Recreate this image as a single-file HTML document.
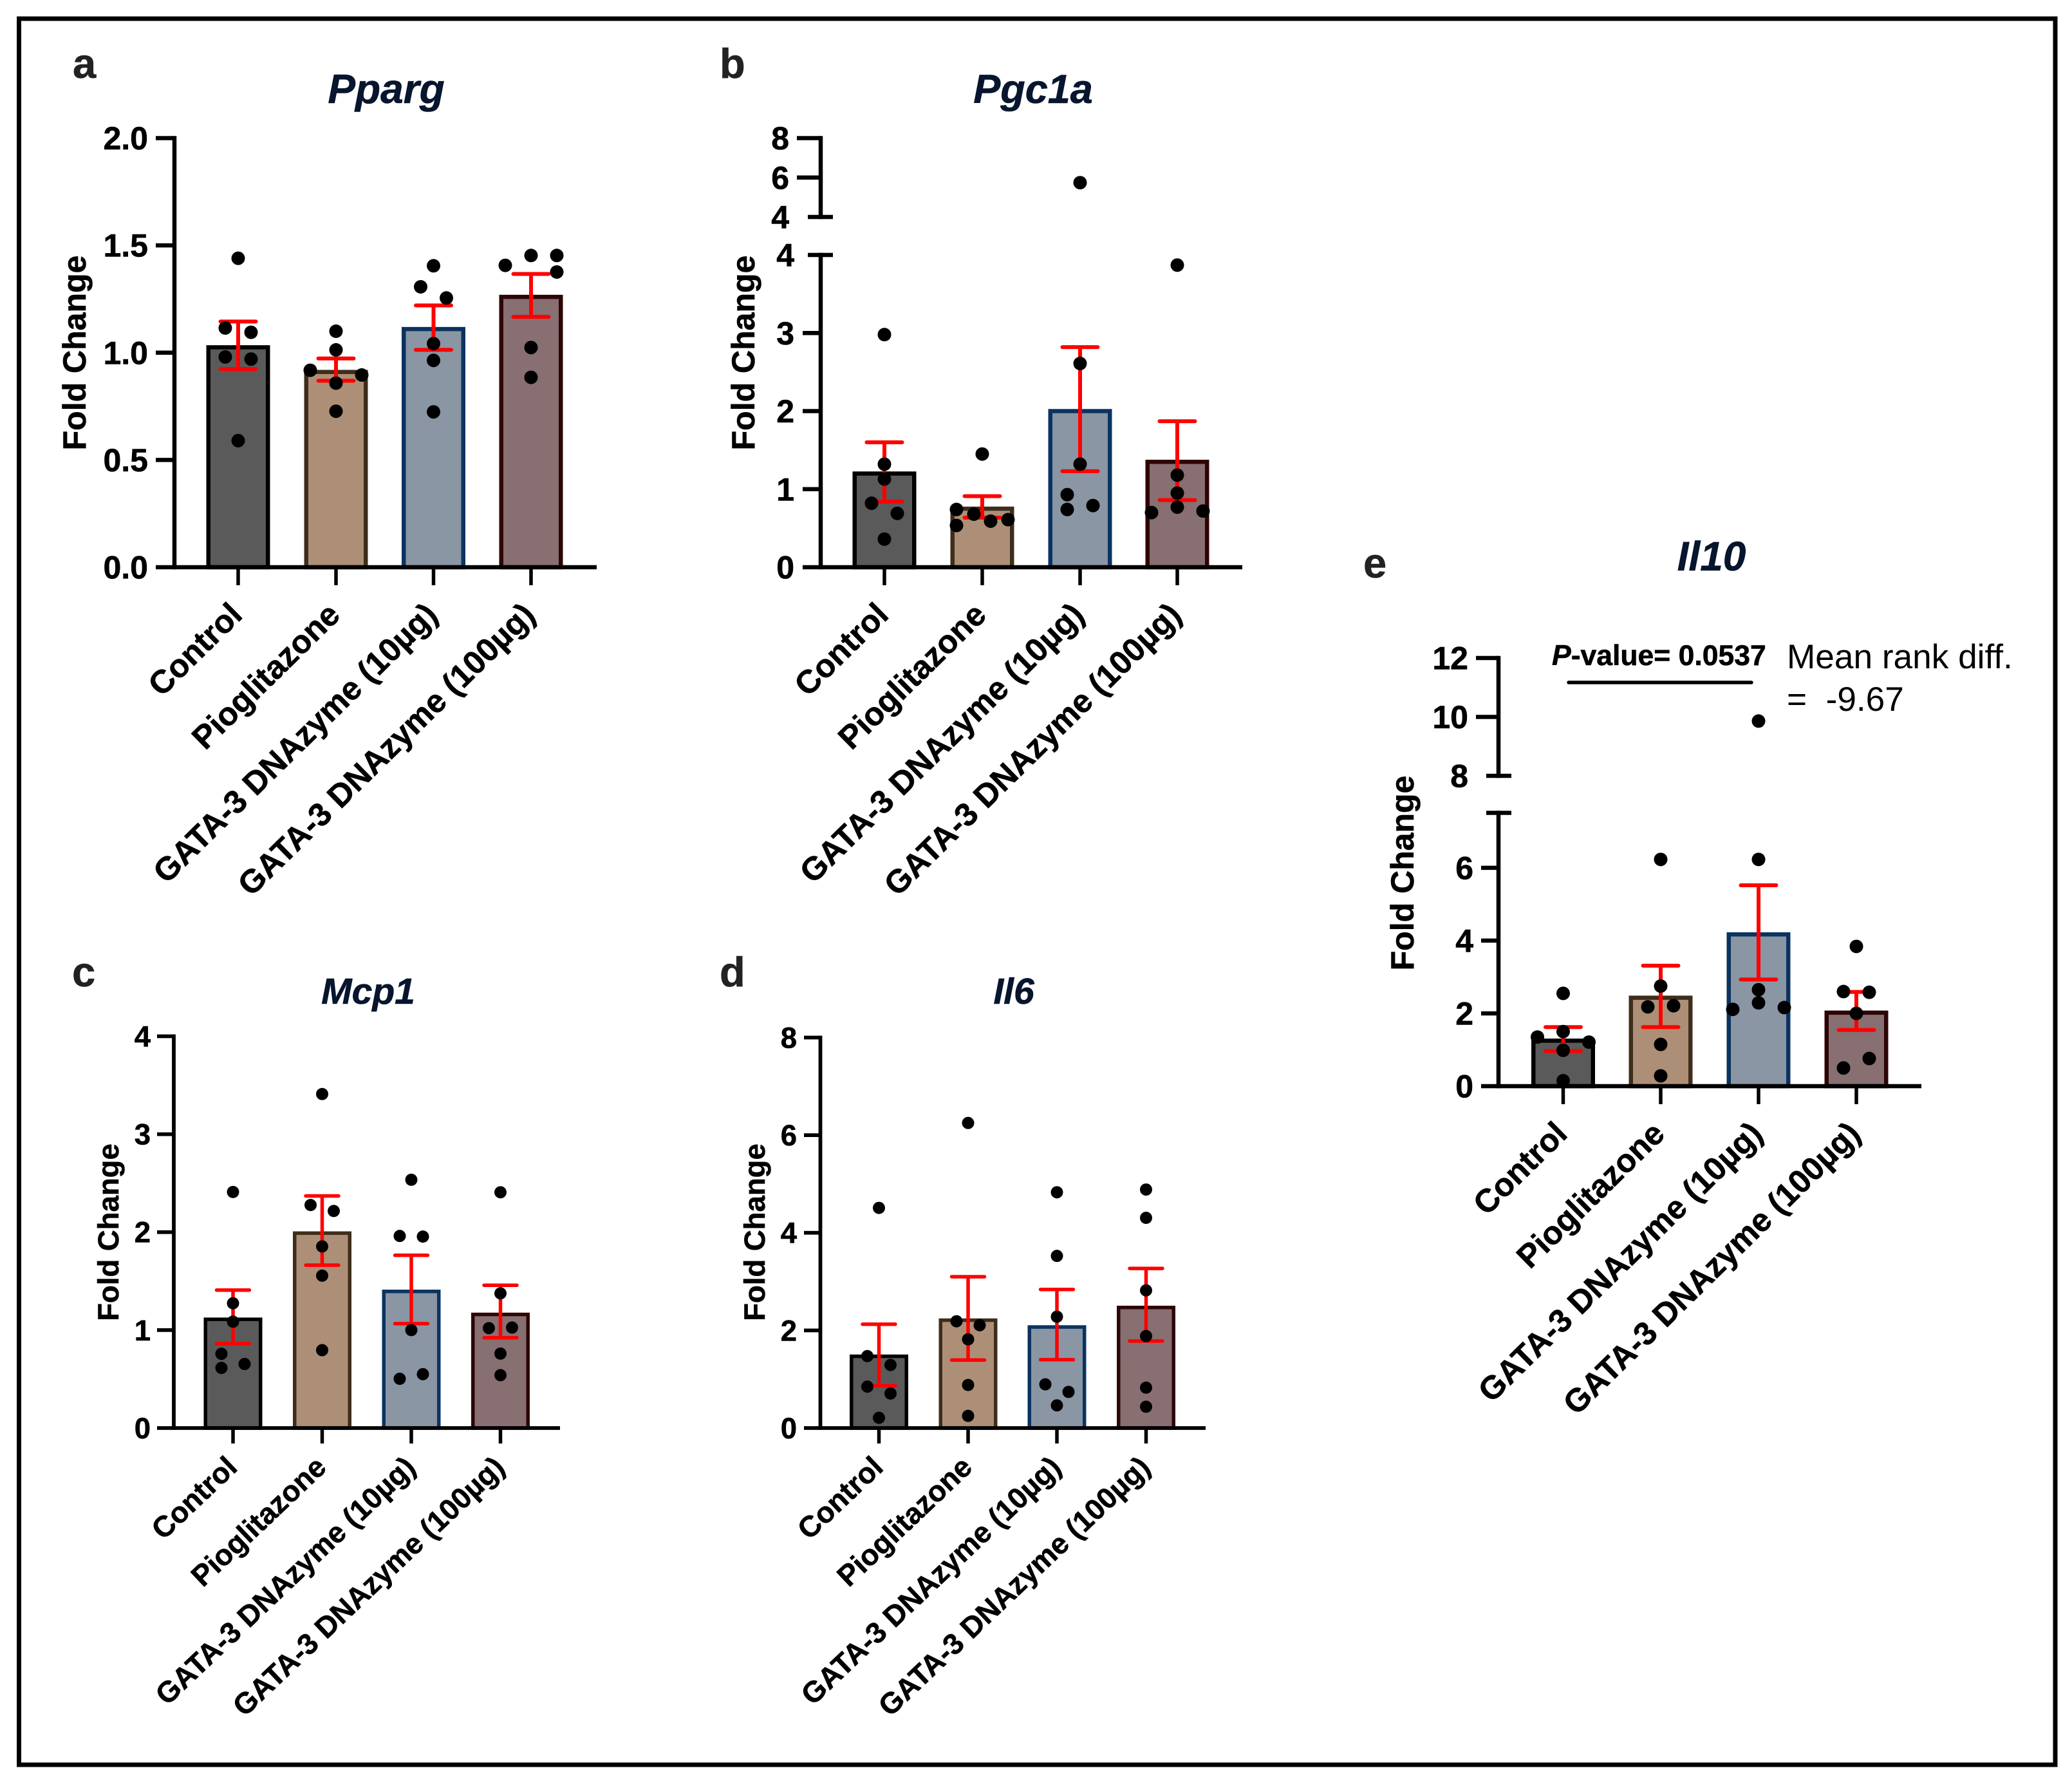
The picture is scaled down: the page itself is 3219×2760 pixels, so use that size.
<!DOCTYPE html>
<html lang="en">
<head>
<meta charset="utf-8">
<title>Fold change bar charts</title>
<style>
html,body{margin:0;padding:0;background:#fff}
svg{display:block}
text{font-family:"Liberation Sans",Arial,sans-serif}
.b{font-weight:700;stroke:#000;stroke-width:.6px}
.title{font-weight:700;font-style:italic;fill:#07152e;text-anchor:middle;stroke:#07152e;stroke-width:.6px}
.letter{font-weight:700;font-size:65px;fill:#222;stroke:#222;stroke-width:.6px}
.ytitle{font-weight:700;text-anchor:middle;fill:#000;stroke:#000;stroke-width:.6px}
</style>
</head>
<body>
<svg id="figure" xmlns="http://www.w3.org/2000/svg" width="3219" height="2760" viewBox="0 0 3219 2760">
  <rect width="3219" height="2760" fill="#fff"/>
  <rect x="29.5" y="29" width="3163.5" height="2712" fill="none" stroke="#000" stroke-width="7"/>

  <text class="letter" x="113" y="121">a</text>
  <text class="letter" x="1118" y="121">b</text>
  <text class="letter" x="112" y="1532">c</text>
  <text class="letter" x="1118" y="1532">d</text>
  <text class="letter" x="2118" y="897">e</text>

  <text class="title" x="600" y="160" font-size="64">Pparg</text>
  <text class="title" x="1605" y="160" font-size="63">Pgc1a</text>
  <text class="title" x="572" y="1559" font-size="57">Mcp1</text>
  <text class="title" x="1575" y="1559" font-size="57">Il6</text>
  <text class="title" x="2659" y="886" font-size="64">Il10</text>

  <text class="ytitle" font-size="50" transform="translate(133 548) rotate(-90)">Fold Change</text>
  <text class="ytitle" font-size="50" transform="translate(1172 548) rotate(-90)">Fold Change</text>
  <text class="ytitle" font-size="45.5" transform="translate(184 1914) rotate(-90)">Fold Change</text>
  <text class="ytitle" font-size="45.5" transform="translate(1188 1914) rotate(-90)">Fold Change</text>
  <text class="ytitle" font-size="50" transform="translate(2196 1356) rotate(-90)">Fold Change</text>

  <g id="plots"></g>

  <text class="b" x="2411" y="1033" font-size="44.5"><tspan font-style="italic">P</tspan>-value= 0.0537</text>
  <line x1="2437" x2="2721" y1="1060" y2="1060" stroke="#000" stroke-width="5.5" stroke-linecap="round"/>
  <text x="2776" y="1038" font-size="53.2">Mean rank diff.</text>
  <text x="2776" y="1104" font-size="53.2" xml:space="preserve" style="white-space:pre">=  -9.67</text>
</svg>

<script>
const categories = ['Control', 'Pioglitazone', 'GATA-3 DNAzyme (10µg)', 'GATA-3 DNAzyme (100µg)'];

/* Panel a: Pparg */
const aMeans = [1.025, 0.91, 1.11, 1.26];
const aErrHigh = [1.145, 0.973, 1.22, 1.367];
const aErrLow = [0.924, 0.869, 1.013, 1.167];
const aDots = [
  [1.44, 1.115, 1.095, 0.98, 0.97, 0.59],
  [1.10, 1.013, 0.918, 0.896, 0.858, 0.727],
  [1.405, 1.307, 1.255, 1.042, 0.964, 0.724],
  [1.453, 1.453, 1.407, 1.376, 1.024, 0.885]
];
const aSlots = [
  [0, -1, 1, -1, 1, 0],
  [0, 0, -2, 2, 0, 0],
  [0, -1, 1, 0, 0, 0],
  [0, 2, -2, 2, 0, 0]
];
const aTicks = [0, 0.5, 1, 1.5, 2];
const aTickLabels = ['0.0', '0.5', '1.0', '1.5', '2.0'];

/* Panel b: Pgc1a */
const bMeans = [1.2, 0.75, 2.0, 1.35];
const bErrHigh = [1.6, 0.91, 2.82, 1.87];
const bErrLow = [0.84, 0.635, 1.23, 0.86];
const bDots = [
  [2.98, 1.32, 1.13, 0.82, 0.69, 0.36],
  [1.45, 0.74, 0.68, 0.59, 0.61, 0.535],
  [5.74, 2.61, 1.32, 0.93, 0.74, 0.79],
  [3.87, 1.18, 0.95, 0.77, 0.70, 0.72]
];
const bSlots = [
  [0, 0, 0, -1, 1, 0],
  [0, -2, -0.65, 0.65, 2, -2],
  [0, 0, 0, -1, -1, 1],
  [0, 0, 0, 0, -2, 2]
];
const bLowerTicks = [0, 1, 2, 3, 4];
const bLowerTickLabels = ['0', '1', '2', '3', '4'];
const bUpperTicks = [4, 6, 8];
const bUpperTickLabels = ['4', '6', '8'];

/* Panel c: Mcp1 */
const cMeans = [1.11, 1.99, 1.395, 1.16];
const cErrHigh = [1.408, 2.37, 1.764, 1.458];
const cErrLow = [0.862, 1.663, 1.066, 0.922];
const cDots = [
  [2.41, 1.274, 1.086, 0.758, 0.654, 0.614],
  [3.41, 2.277, 2.216, 1.854, 1.556, 0.795],
  [2.535, 1.961, 1.955, 1.0, 0.55, 0.503],
  [2.407, 1.375, 1.02, 1.026, 0.76, 0.54]
];
const cSlots = [
  [0, 0, 0, -1, 1, -1],
  [0, -1, 1, 0, 0, 0],
  [0, -1, 1, 0, 1, -1],
  [0, 0, -1, 1, 0, 0]
];
const cTicks = [0, 1, 2, 3, 4];
const cTickLabels = ['0', '1', '2', '3', '4'];

/* Panel d: Il6 */
const dMeans = [1.47, 2.21, 2.07, 2.47];
const dErrHigh = [2.127, 3.10, 2.84, 3.27];
const dErrLow = [0.868, 1.393, 1.40, 1.783];
const dDots = [
  [4.51, 1.474, 1.292, 0.848, 0.707, 0.209],
  [6.25, 2.187, 2.106, 1.817, 0.882, 0.249],
  [4.83, 3.526, 2.281, 0.895, 0.74, 0.464],
  [4.886, 4.307, 2.82, 1.884, 0.828, 0.437]
];
const dSlots = [
  [0, -1, 1, -1, 1, 0],
  [0, -1, 1, 0, 0, 0],
  [0, 0, 0, -1, 1, 0],
  [0, 0, 0, 0, 0, 0]
];
const dTicks = [0, 2, 4, 6, 8];
const dTickLabels = ['0', '2', '4', '6', '8'];

/* Panel e: Il10 */
const eMeans = [1.25, 2.43, 4.17, 2.02];
const eErrHigh = [1.624, 3.31, 5.52, 2.59];
const eErrLow = [0.964, 1.624, 2.93, 1.543];
const eDots = [
  [2.55, 1.35, 1.50, 1.21, 0.985, 0.15],
  [6.23, 2.75, 2.18, 2.21, 1.147, 0.284],
  [9.86, 6.23, 2.65, 2.29, 2.11, 2.16],
  [3.84, 2.6, 2.58, 2.0, 0.76, 0.5]
];
const eSlots = [
  [0, -2, 0, 2, 0, 0],
  [0, 0, -1, 1, 0, 0],
  [0, 0, 0, 0, -2, 2],
  [0, -1, 1, 0, 1, -1]
];
const eLowerTicks = [0, 2, 4, 6];
const eLowerTickLabels = ['0', '2', '4', '6'];
const eUpperTicks = [8, 10, 12];
const eUpperTickLabels = ['8', '10', '12'];

const fillColors = ['#5a5a5a', '#ad8f77', '#8a96a3', '#876f72'];
const edgeColors = ['#000000', '#3f2d1b', '#0a3360', '#2e0505'];

const NS = 'http://www.w3.org/2000/svg';
const root = document.getElementById('plots');

function make(parent, tag, attrs) {
  const el = document.createElementNS(NS, tag);
  for (const k in attrs) el.setAttribute(k, attrs[k]);
  parent.appendChild(el);
  return el;
}

function yScale(p, v) {
  /* lower segment is first; values above its top go to the upper segment */
  for (let i = 0; i < p.segments.length; i++) {
    const s = p.segments[i];
    if (v <= s.hi || i === p.segments.length - 1) {
      return s.yLo + (v - s.lo) / (s.hi - s.lo) * (s.yHi - s.yLo);
    }
  }
}

function drawPanel(p) {
  const g = make(root, 'g', {});
  
  

  const baseline = p.segments[0].yLo;

  /* bars, error bars, dots */
  categories.forEach(function (cat, i) {
    const cx = p.centers[i];

    const y = yScale(p, p.means[i]);
    const bar = make(g, 'rect', {
      x: cx - p.barW / 2, y: y, width: p.barW, height: baseline - y,
      fill: fillColors[i], stroke: edgeColors[i], 'stroke-width': p.barStroke
    });
    
    

    const yH = yScale(p, p.errHigh[i]);
    const yL = yScale(p, p.errLow[i]);
    const err = make(g, 'path', {
      d: 'M' + (cx - p.capW / 2) + ' ' + yH + 'H' + (cx + p.capW / 2) +
         'M' + cx + ' ' + yH + 'V' + yL +
         'M' + (cx - p.capW / 2) + ' ' + yL + 'H' + (cx + p.capW / 2),
      fill: 'none', stroke: '#ff0000', 'stroke-width': p.errStroke, 'stroke-linecap': 'round'
    });
    
    
  });

  categories.forEach(function (cat, i) {
    p.dots[i].forEach(function (v, j) {
      const dot = make(g, 'circle', {
        cx: p.centers[i] + p.slots[i][j] * p.slotW,
        cy: yScale(p, v),
        r: p.dotR,
        fill: '#000'
      });
      
      
    });
  });

  /* y axis segments */
  p.segments.forEach(function (s, si) {
    const axis = make(g, 'line', {
      x1: p.axisX, x2: p.axisX, y1: s.yLo + p.axisW / 2, y2: s.yHi - p.axisW / 2,
      stroke: '#000', 'stroke-width': p.axisW
    });
    
    

    s.ticks.forEach(function (t, k) {
      const ty = yScale({ segments: [s] }, t);
      const isBreak = s.breakAt.indexOf(t) >= 0;
      if (t !== 0) {
        const tick = make(g, 'line', {
          x1: isBreak ? s.breakLeft : s.tickLeft,
          x2: isBreak ? s.breakRight : p.axisX,
          y1: ty, y2: ty, stroke: '#000', 'stroke-width': p.axisW
        });
        
        
      }
      const lab = make(g, 'text', {
        x: s.labelRight, y: ty + p.fontSize * 0.35, 'font-size': p.fontSize,
        'font-weight': 700, 'text-anchor': 'end', stroke: '#000', 'stroke-width': 0.6
      });
      
      
      lab.textContent = s.labels[k];
    });

    if (s.extraBreak !== undefined) {
      const ty = yScale({ segments: [s] }, s.extraBreak);
      const tick = make(g, 'line', {
        x1: s.breakLeft, x2: s.breakRight, y1: ty, y2: ty, stroke: '#000', 'stroke-width': p.axisW
      });
      
      
    }
  });

  /* x axis */
  const xAxis = make(g, 'line', {
    x1: p.xStart, x2: p.xEnd, y1: baseline, y2: baseline, stroke: '#000', 'stroke-width': p.axisW
  });
  
  

  categories.forEach(function (cat, i) {
    const cx = p.centers[i];
    const tick = make(g, 'line', {
      x1: cx, x2: cx, y1: baseline, y2: baseline + p.xTickLen, stroke: '#000', 'stroke-width': 5.5
    });
    
    

    const ax = cx + 9;
    const ay = baseline + p.labelDrop;
    const lab = make(g, 'text', {
      x: ax, y: ay, 'font-size': p.labelSize, 'font-weight': 700, 'text-anchor': 'end',
      stroke: '#000', 'stroke-width': 0.6,
      transform: 'rotate(' + p.labelAngle + ' ' + ax + ' ' + ay + ')'
    });
    
    
    lab.textContent = cat;
  });
}

const largeStyle = { fontSize: 50, labelSize: 50.5, axisW: 6.5, barW: 92.5, barStroke: 6.5, capW: 55, errStroke: 6, dotR: 10.5, slotW: 20, xTickLen: 28, labelDrop: 77, labelAngle: -44.5 };
const smallStyle = { fontSize: 45.5, labelSize: 45.5, axisW: 5.8, barW: 85.5, barStroke: 5.5, capW: 51, errStroke: 5.5, dotR: 9.5, slotW: 18, xTickLen: 24, labelDrop: 64, labelAngle: -43.5 };

drawPanel(Object.assign({}, largeStyle, {
  id: 'pparg', means: aMeans, errHigh: aErrHigh, errLow: aErrLow, dots: aDots, slots: aSlots,
  axisX: 271, xStart: 242, xEnd: 927, centers: [370, 522, 673.5, 825],
  segments: [{ lo: 0, hi: 2, yLo: 881, yHi: 214.5, ticks: aTicks, labels: aTickLabels, tickLeft: 242, labelRight: 230, breakAt: [] }]
}));

drawPanel(Object.assign({}, largeStyle, {
  id: 'pgc1a', means: bMeans, errHigh: bErrHigh, errLow: bErrLow, dots: bDots, slots: bSlots,
  axisX: 1275, xStart: 1247, xEnd: 1930, centers: [1374, 1526, 1678, 1829],
  segments: [
    { lo: 0, hi: 4, yLo: 881, yHi: 396, ticks: bLowerTicks, labels: bLowerTickLabels, tickLeft: 1247, labelRight: 1234, breakAt: [4], breakLeft: 1255, breakRight: 1294 },
    { lo: 4, hi: 8, yLo: 337, yHi: 214.5, ticks: bUpperTicks, labels: bUpperTickLabels, tickLeft: 1238, labelRight: 1226, breakAt: [4], breakLeft: 1255, breakRight: 1294 }
  ]
}));

drawPanel(Object.assign({}, smallStyle, {
  id: 'mcp1', means: cMeans, errHigh: cErrHigh, errLow: cErrLow, dots: cDots, slots: cSlots,
  axisX: 270, xStart: 244, xEnd: 870, centers: [362, 500.5, 639, 777.5],
  segments: [{ lo: 0, hi: 4, yLo: 2218, yHi: 1609.5, ticks: cTicks, labels: cTickLabels, tickLeft: 244, labelRight: 234, breakAt: [] }]
}));

drawPanel(Object.assign({}, smallStyle, {
  id: 'il6', means: dMeans, errHigh: dErrHigh, errLow: dErrLow, dots: dDots, slots: dSlots,
  axisX: 1274.5, xStart: 1249, xEnd: 1873, centers: [1365.5, 1504, 1642, 1780.5],
  segments: [{ lo: 0, hi: 8, yLo: 2218, yHi: 1611.5, ticks: dTicks, labels: dTickLabels, tickLeft: 1249, labelRight: 1238, breakAt: [] }]
}));

drawPanel(Object.assign({}, largeStyle, {
  id: 'il10', means: eMeans, errHigh: eErrHigh, errLow: eErrLow, dots: eDots, slots: eSlots,
  axisX: 2328, xStart: 2301, xEnd: 2985, centers: [2428.5, 2580, 2732, 2884],
  segments: [
    { lo: 0, hi: 7.51, yLo: 1687, yHi: 1262.5, ticks: eLowerTicks, labels: eLowerTickLabels, tickLeft: 2301, labelRight: 2289, breakAt: [], extraBreak: 7.51, breakLeft: 2309, breakRight: 2348 },
    { lo: 8, hi: 12, yLo: 1205, yHi: 1022, ticks: eUpperTicks, labels: eUpperTickLabels, tickLeft: 2293, labelRight: 2281, breakAt: [8], breakLeft: 2309, breakRight: 2348 }
  ]
}));
</script>
</body>
</html>
